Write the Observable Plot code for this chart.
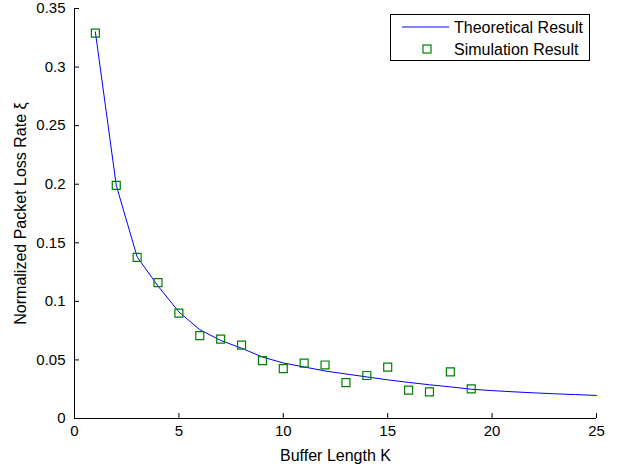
<!DOCTYPE html>
<html>
<head>
<meta charset="utf-8">
<script src="https://cdn.jsdelivr.net/npm/d3@7"></script>
<script src="https://cdn.jsdelivr.net/npm/@observablehq/plot@0.6"></script>
<style>
  html, body { margin: 0; padding: 0; background: #fff; }
  svg { font-family: "Liberation Sans", Arial, Helvetica, sans-serif; }
</style>
</head>
<body>
<div id="chart"></div>
<script>
// Theoretical curve
const bufferLength = [1, 2, 3, 4, 5, 6, 7, 8, 9, 10, 11, 12, 13, 14, 15, 16, 17, 18, 19, 20, 21, 22, 23, 24, 25];
const theoretical = [0.330, 0.199, 0.138, 0.113, 0.091, 0.0758, 0.0667, 0.0600, 0.0525, 0.0474, 0.0440, 0.0406, 0.0380, 0.0355, 0.0330, 0.0308, 0.0288, 0.0270, 0.0250, 0.0238, 0.0228, 0.0219, 0.0211, 0.0204, 0.0197];

// Simulation points
const simK = [1, 2, 3, 4, 5, 6, 7, 8, 9, 10, 11, 12, 13, 14, 15, 16, 17, 18, 19];
const simulation = [0.329, 0.199, 0.1375, 0.116, 0.0899, 0.0707, 0.0678, 0.0627, 0.0494, 0.0426, 0.0472, 0.0457, 0.0307, 0.0367, 0.0438, 0.0242, 0.0228, 0.0398, 0.0253];

const xTicks = [0, 5, 10, 15, 20, 25];
const yTicks = [0, 0.05, 0.1, 0.15, 0.2, 0.25, 0.3, 0.35];
const yTickLabels = ["0", "0.05", "0.1", "0.15", "0.2", "0.25", "0.3", "0.35"];

const xLabel = "Buffer Length K";
const yLabel = "Normalized Packet Loss Rate \u03BE";
const legendLabels = ["Theoretical Result", "Simulation Result"];

const lineColor = "#0000ff";
const markerColor = "#008000";

const theoData = bufferLength.map((k, i) => ({k, v: theoretical[i]}));
const simData = simK.map((k, i) => ({k, v: simulation[i]}));

const fsTick = 15;
const fsLabel = 16;

const chart = Plot.plot({
  width: 618,
  height: 466,
  marginLeft: 74,
  marginRight: 22,
  marginTop: 8,
  marginBottom: 48,
  style: {fontSize: fsTick + "px", fontFamily: '"Liberation Sans", Arial, sans-serif', background: "#fff", color: "#000"},
  x: {domain: [0, 25]},
  y: {domain: [0, 0.35]},
  marks: [
    Plot.axisX({ticks: xTicks, tickSize: -5, tickPadding: 12, label: null, tickFormat: d => String(d), fontSize: fsTick}),
    Plot.axisY({ticks: yTicks, tickSize: -5, tickPadding: 14, label: null, tickFormat: d => yTickLabels[yTicks.indexOf(d)], fontSize: fsTick}),
    Plot.ruleY([0], {stroke: "#000"}),
    Plot.ruleX([0], {stroke: "#000"}),
    Plot.line(theoData, {x: "k", y: "v", stroke: lineColor, strokeWidth: 1}),
    Plot.dot(simData, {x: "k", y: "v", symbol: "square", r: 4.5, stroke: markerColor, strokeWidth: 1.2, fill: "none"}),
    Plot.text([xLabel], {frameAnchor: "bottom", dy: 42, lineAnchor: "bottom", textAnchor: "middle", fontSize: fsLabel, fill: "#000"}),
    Plot.text([yLabel], {frameAnchor: "left", dx: -54, rotate: -90, textAnchor: "middle", fontSize: fsLabel, fill: "#000"})
  ]
});

document.getElementById("chart").appendChild(chart);

// Legend box in the upper right corner
const svg = d3.select(chart);
const lg = svg.append("g").attr("class", "legend").attr("text-anchor", "start");
lg.append("rect")
  .attr("x", 390.5).attr("y", 14.5).attr("width", 199).attr("height", 46)
  .attr("fill", "#fff").attr("stroke", "#000").attr("stroke-width", 1);
lg.append("line")
  .attr("x1", 402).attr("x2", 449).attr("y1", 27).attr("y2", 27)
  .attr("stroke", lineColor).attr("stroke-width", 1);
lg.append("rect")
  .attr("x", 423).attr("y", 45).attr("width", 8).attr("height", 8)
  .attr("fill", "none").attr("stroke", markerColor).attr("stroke-width", 1.2);
lg.append("text").attr("x", 454).attr("y", 32.5).attr("text-anchor", "start")
  .attr("font-size", fsLabel).attr("fill", "#000").text(legendLabels[0]);
lg.append("text").attr("x", 454).attr("y", 54.5).attr("text-anchor", "start")
  .attr("font-size", fsLabel).attr("fill", "#000").text(legendLabels[1]);
</script>
</body>
</html>
